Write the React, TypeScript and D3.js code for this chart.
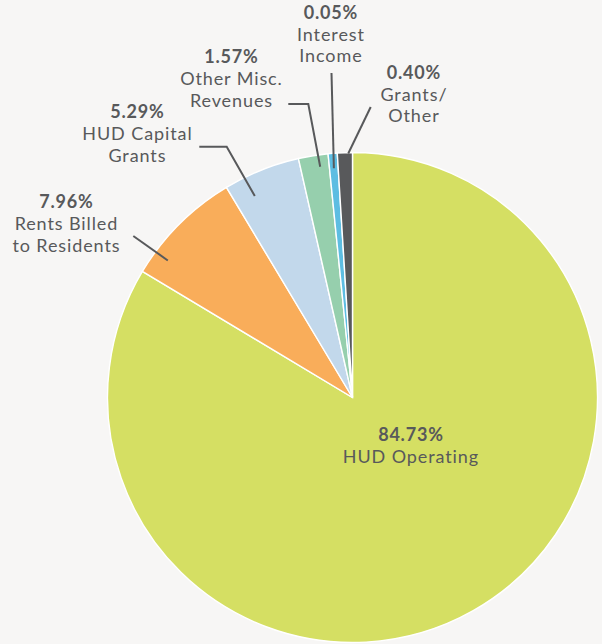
import React from "react";
import * as d3 from "d3";

// Category names (two-line labels)
const categories = ["HUD Operating", "Rents Billed", "HUD Capital", "Other Misc.", "Interest", "Grants/"];
const categoriesLine2 = ["", "to Residents", "Grants", "Revenues", "Income", "Other"];
// Labelled percentages
const percentLabels = ["84.73%", "7.96%", "5.29%", "1.57%", "0.05%", "0.40%"];
// Share of the circle each slice occupies as drawn in the picture
const sliceShare = [83.6, 7.8, 5.06, 1.95, 0.6, 0.99];
const colors = ["#d5df63", "#f9ad5a", "#c2d8eb", "#96cfad", "#5dbde2", "#58595b"];

// Layout (annotation positions)
const W = 602, H = 644;
const CX = 352.5, CY = 397.5, R = 245;
const labelPos: [number, number][] = [
  [410.5, 441], [66, 208.3], [137, 118.3], [231, 63.3], [330.5, 19], [413.5, 79],
];
// leader: start points (with optional elbow) + where the line enters the slice (fraction of slice, radius)
const leaderStart: [number, number][][] = [
  [], [[133.3, 236]], [[199.3, 146.7], [226.7, 146.7]], [[288.3, 104], [308.3, 104]], [[331.5, 73]], [[370.7, 107]],
];
const leaderEnd: [number, number][] = [[0, 0], [0.2, 230], [0.28, 224], [0.68, 233], [0.5, 230], [0.72, 244]];

const TEXT = "#58595b";
const FONT = "Lato, 'Noto Sans', sans-serif";

export default function App() {
  const pie = d3.pie<number>().sort(null).startAngle(0).endAngle(2 * Math.PI);
  const arcs = pie(sliceShare);
  const arc = d3.arc<d3.PieArcDatum<number>>().innerRadius(0).outerRadius(R);
  const lineGen = d3.line();

  return (
    <div style={{ position: "fixed", left: 0, top: 0 }}>
      <svg width={W} height={H} style={{ display: "block" }}>
        <rect width={W} height={H} fill="#f7f6f5" />
        <g transform={`translate(${CX},${CY})`}>
          {arcs.map((a, i) => (
            <path key={i} d={arc(a) || ""} fill={colors[i]} stroke="#ffffff" strokeWidth={1.4} />
          ))}
        </g>
        {arcs.map((a, i) => {
          if (leaderStart[i].length === 0) return null;
          const [t, r] = leaderEnd[i];
          const ang = a.startAngle + t * (a.endAngle - a.startAngle);
          const end: [number, number] = [CX + r * Math.sin(ang), CY - r * Math.cos(ang)];
          return (
            <path key={"l" + i} d={lineGen([...leaderStart[i], end]) || ""} fill="none" stroke={TEXT} strokeWidth={2} />
          );
        })}
        {categories.map((c, i) => {
          const [x, y] = labelPos[i];
          const xs = x + 0.45;
          return (
            <text key={"t" + i} x={xs} y={y} textAnchor="middle" fill={TEXT} fontFamily={FONT} fontSize={18}>
              <tspan x={xs} y={y} fontWeight={700} letterSpacing={0.8}>{percentLabels[i]}</tspan>
              <tspan x={xs} y={y + 21.7} letterSpacing={0.9}>{c}</tspan>
              {categoriesLine2[i] && <tspan x={xs} y={y + 43.4} letterSpacing={0.9}>{categoriesLine2[i]}</tspan>}
            </text>
          );
        })}
      </svg>
    </div>
  );
}
